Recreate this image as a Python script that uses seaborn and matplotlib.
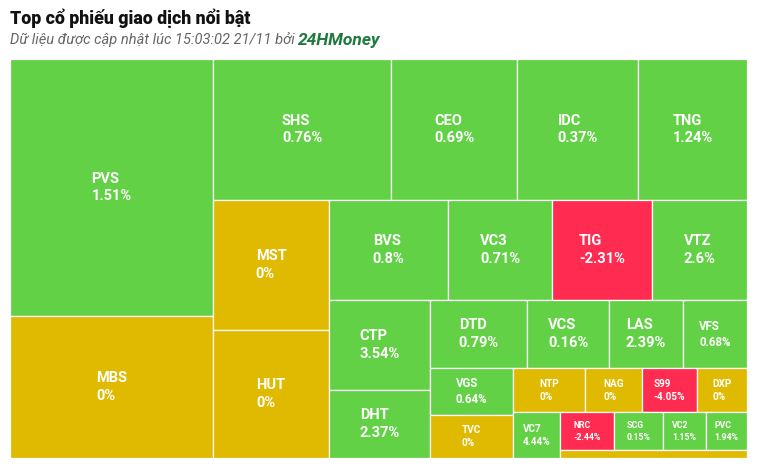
import matplotlib
matplotlib.use("Agg")
import matplotlib.pyplot as plt
from matplotlib.patches import Rectangle
import seaborn as sns

# ---- data ----
tickers = ["PVS", "MBS", "SHS", "CEO", "IDC", "TNG", "MST", "HUT", "BVS", "VC3",
           "TIG", "VTZ", "CTP", "DHT", "DTD", "VCS", "LAS", "VFS", "VGS", "TVC",
           "NTP", "NAG", "S99", "DXP", "VC7", "NRC", "SCG", "VC2", "PVC", ""]
changes = [1.51, 0, 0.76, 0.69, 0.37, 1.24, 0, 0, 0.8, 0.71,
           -2.31, 2.6, 3.54, 2.37, 0.79, 0.16, 2.39, 0.68, 0.64, 0,
           0, 0, -4.05, 0, 4.44, -2.44, 0.15, 1.15, 1.94, 0]
volumes = [52171, 28826, 25098, 17766, 17061, 15369, 15080, 14848, 11900, 10400,
           10000, 9500, 9090, 6868, 6596, 5576, 5032, 4352, 3854, 3526,
           3212, 2508, 2420, 2200, 2150, 2014, 1862, 1596, 1558, 1480]

title = "Top cổ phiếu giao dịch nổi bật"
subtitle = "Dữ liệu được cập nhật lúc 15:03:02 21/11 bởi "
brand = "24HMoney"

GREEN, YELLOW, RED = "#62D146", "#E0BA00", "#FF2B51"

sns.set_theme(style="white")
plt.rcParams["font.family"] = ["Roboto", "DejaVu Sans"]

W, H = 737.0, 399.0  # treemap canvas units (px)


def ratio(a, b):
    return max(a / b, b / a)


def layout(vals, x, y, w, h, direction):
    """Squarified layout with alternating direction (Highcharts style)."""
    total_all = float(sum(vals))
    scale = (w * h) / total_all
    areas = [v * scale for v in vals]
    rects = []
    i = 0
    n = len(areas)
    while i < n:
        group = [areas[i]]
        j = i + 1
        while j < n:
            prev = group[-1]
            tot_old = sum(group)
            tot_new = tot_old + areas[j]
            if direction == 0:
                lw, nw = tot_old / h, tot_new / h
                lr = ratio(lw, prev / lw)
                nr = ratio(nw, prev / nw)
            else:
                lh, nh = tot_old / w, tot_new / w
                lr = ratio(lh, prev / lh)
                nr = ratio(nh, prev / nh)
            if nr > lr:
                break
            group.append(areas[j])
            j += 1
        tot = sum(group)
        if direction == 0:
            gw = tot / h
            cy = y
            for a in group:
                gh = a / gw
                rects.append((x, cy, gw, gh))
                cy += gh
            x += gw
            w -= gw
        else:
            gh = tot / w
            cx = x
            for a in group:
                gw = a / gh
                rects.append((cx, y, gw, gh))
                cx += gw
            y += gh
            h -= gh
        i = j
        direction = 1 - direction
    return rects


rects = layout(volumes, 0.0, 0.0, W, H, 0)

fig = plt.figure(figsize=(7.65, 4.70), dpi=100)
ax = fig.add_axes([10 / 765, (470 - 458) / 470, W / 765, H / 470])
ax.set_xlim(0, W)
ax.set_ylim(H, 0)
ax.axis("off")

for (rx, ry, rw, rh), t, c in zip(rects, tickers, changes):
    col = GREEN if c > 0 else (YELLOW if c == 0 else RED)
    ax.add_patch(Rectangle((rx, ry), rw, rh, facecolor=col, edgecolor="white", linewidth=0.9))
    if not t:
        continue
    area = rw * rh
    if area >= 4900:
        fs = 10.5
    elif area >= 3800:
        fs = 8.3
    elif area >= 2150:
        fs = 7.2
    else:
        fs = 6.3
    label = f"{t}\n{c:g}%"
    ax.text(rx + rw / 2, ry + rh / 2, label, ha="center", va="center", multialignment="left",
            color="white", fontsize=fs, fontweight="bold", linespacing=1.35)

fig.text(10 / 765, 1 - 18 / 470, title, fontsize=12.8, fontweight="heavy", color="#111111",
         va="center", ha="left")
st = fig.text(10 / 765, 1 - 40 / 470, subtitle, fontsize=10.5, style="italic", color="#666666",
              va="center", ha="left")
fig.canvas.draw()
bb = st.get_window_extent()
fig.text(bb.x1 / 765, 1 - 40 / 470, brand, fontsize=12.5, style="italic", fontweight="bold",
         color="#1E7A3C", va="center", ha="left")

fig.savefig("out.png", dpi=100)
